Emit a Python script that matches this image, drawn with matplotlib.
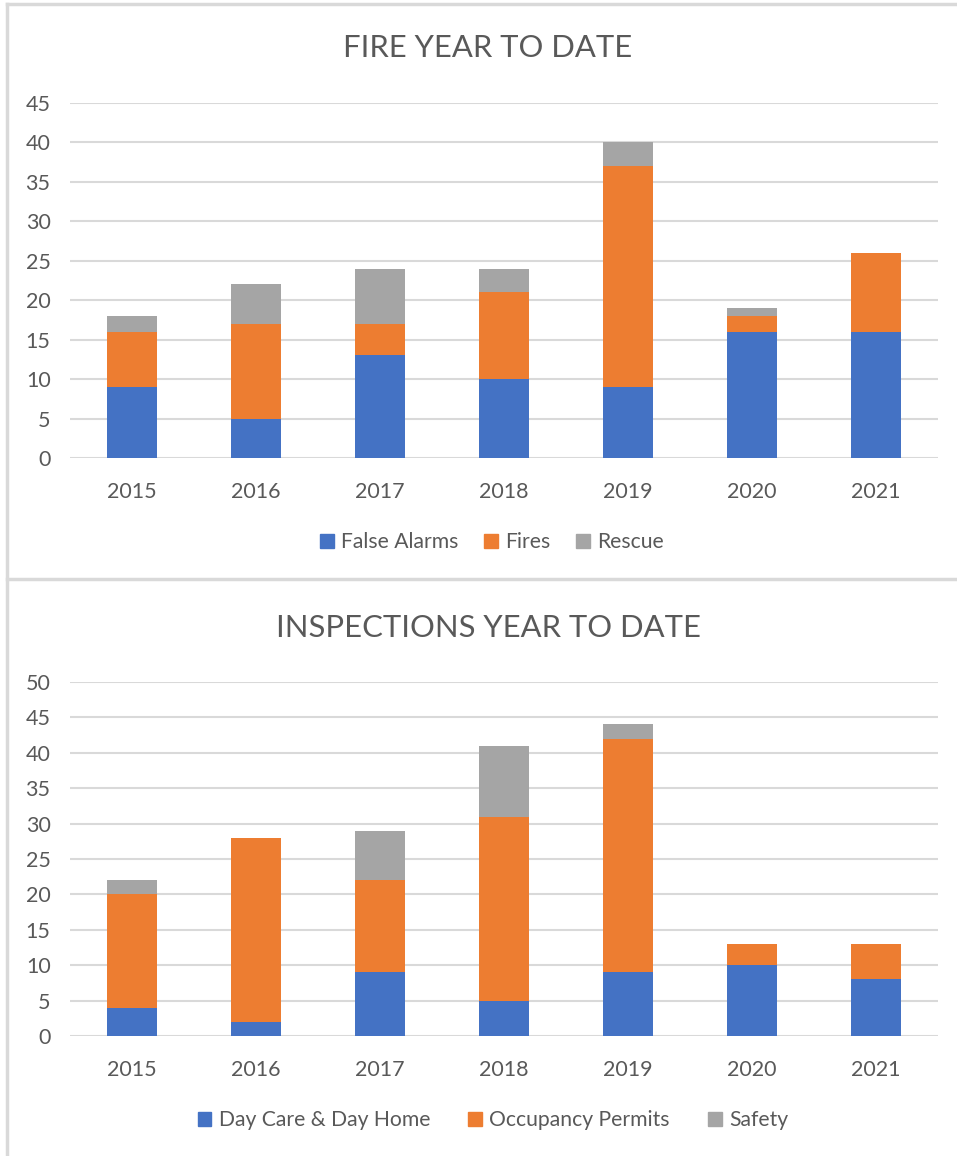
import numpy as np
import matplotlib.pyplot as plt
from matplotlib.lines import Line2D
from matplotlib.patches import Patch

plt.rcParams["font.family"] = ["Lato", "DejaVu Sans"]

# Data

years = ["2015", "2016", "2017", "2018", "2019", "2020", "2021"]

false_alarms = [9, 5, 13, 10, 9, 16, 16]
fires = [7, 12, 4, 11, 28, 2, 10]
rescue = [2, 5, 7, 3, 3, 1, 0]

day_care = [4, 2, 9, 5, 9, 10, 8]
occupancy = [16, 26, 13, 26, 33, 3, 5]
safety = [2, 0, 7, 10, 2, 0, 0]

BLUE = "#4472C4"
ORANGE = "#ED7D31"
GRAY = "#A5A5A5"
TEXT = "#595959"
GRID = "#D9D9D9"

W, H = 957, 1156
fig = plt.figure(figsize=(W / 100, H / 100), dpi=100)


def fx(px):
    return px / W


def fy(py):
    return 1 - py / H


def stacked(ax, series, colors, ymax):
    x = np.arange(len(years))
    bottom = np.zeros(len(years))
    for vals, c in zip(series, colors):
        ax.bar(x, vals, width=0.4, bottom=bottom, color=c, zorder=3)
        bottom += np.array(vals)
    ax.set_xlim(-0.5, len(years) - 0.5)
    ax.set_ylim(0, ymax)
    ax.set_yticks(np.arange(0, ymax + 1, 5))
    ax.set_xticks(x)
    ax.set_xticklabels(years)
    ax.grid(axis="y", color=GRID, linewidth=1.5, zorder=0)
    for s in ax.spines.values():
        s.set_visible(False)
    ax.tick_params(length=0, labelsize=15.5, colors=TEXT)
    ax.tick_params(axis="x", pad=17)
    ax.tick_params(axis="y", pad=14)


# Top chart
ax1 = fig.add_axes([fx(70), fy(458), fx(938) - fx(70), fy(103) - fy(458)])
stacked(ax1, [false_alarms, fires, rescue], [BLUE, ORANGE, GRAY], 45)
fig.text(fx(488), fy(48), "FIRE YEAR TO DATE", ha="center", va="center",
         fontsize=22.3, color=TEXT)
handles1 = [Patch(color=c) for c in [BLUE, ORANGE, GRAY]]
fig.legend(handles1, ["False Alarms", "Fires", "Rescue"], loc="center",
           bbox_to_anchor=(fx(492), fy(542)), ncol=3, frameon=False,
           fontsize=15.2, labelcolor=TEXT, handlelength=0.65, handleheight=0.65,
           handletextpad=0.35, columnspacing=1.2)

# Bottom chart
ax2 = fig.add_axes([fx(70), fy(1036), fx(938) - fx(70), fy(682) - fy(1036)])
stacked(ax2, [day_care, occupancy, safety], [BLUE, ORANGE, GRAY], 50)
fig.text(fx(488), fy(628), "INSPECTIONS YEAR TO DATE", ha="center", va="center",
         fontsize=22.3, color=TEXT)
handles2 = [Patch(color=c) for c in [BLUE, ORANGE, GRAY]]
fig.legend(handles2, ["Day Care & Day Home", "Occupancy Permits", "Safety"],
           loc="center", bbox_to_anchor=(fx(493), fy(1120)), ncol=3,
           frameon=False, fontsize=15.2, labelcolor=TEXT, handlelength=0.65,
           handleheight=0.65, handletextpad=0.35, columnspacing=1.8)

# Panel borders
border = dict(color=GRID, linewidth=2.5, transform=fig.transFigure)
fig.add_artist(Line2D([fx(7), fx(7)], [0, fy(4)], **border))
fig.add_artist(Line2D([fx(7), 1], [fy(4), fy(4)], **border))
fig.add_artist(Line2D([fx(7), 1], [fy(579), fy(579)], **border))

fig.savefig("out.png", dpi=100)
